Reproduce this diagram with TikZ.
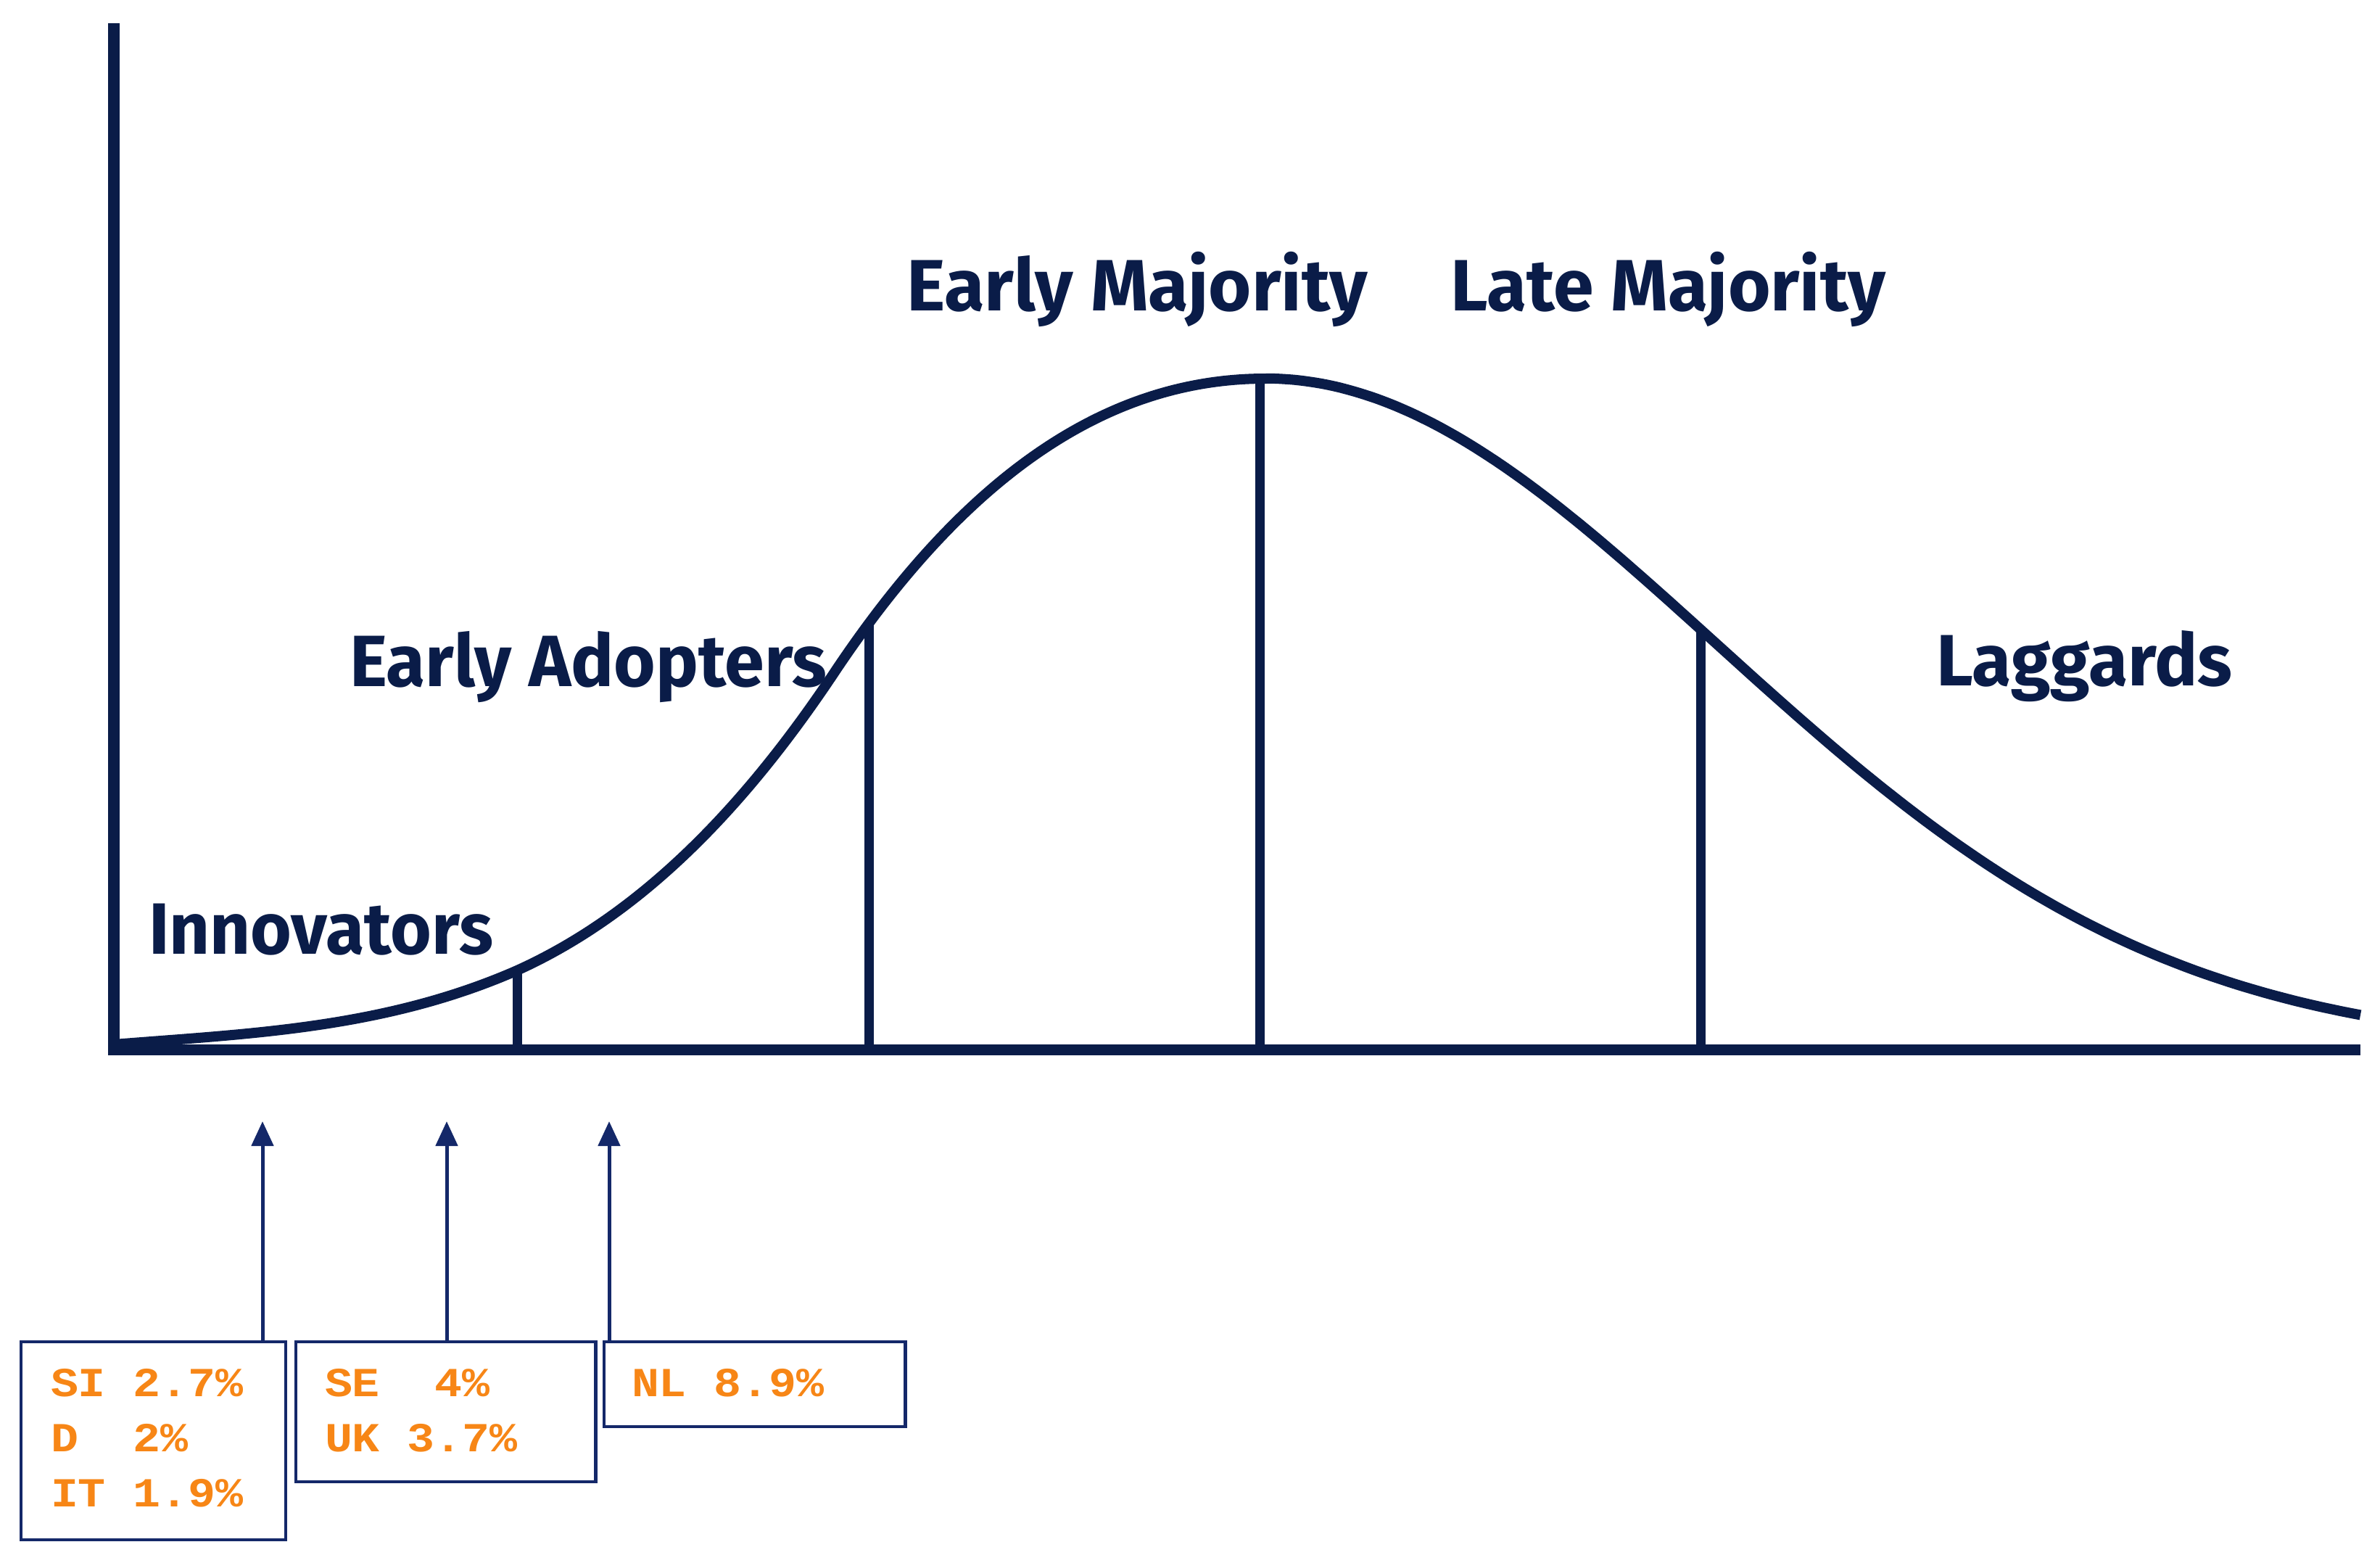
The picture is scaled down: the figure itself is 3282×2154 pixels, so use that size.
\documentclass[tikz,border=0pt]{standalone}
\usepackage{fontspec}
\usepackage{graphicx}
\setmainfont{Fira Sans}
\newfontfamily\valfont{Liberation Mono}
\usetikzlibrary{arrows.meta,intersections}
\definecolor{navy}{RGB}{10,28,72}
\definecolor{boxblue}{RGB}{20,40,105}
\definecolor{valorange}{RGB}{247,134,22}
\begin{document}
\begin{tikzpicture}[x=0.01cm,y=-0.01cm,
  axis/.style={line width=0.15cm, draw=navy, line cap=butt, line join=miter},
  curve/.style={line width=0.14cm, draw=navy},
  divider/.style={line width=0.13cm, draw=navy},
  stage/.style={inner sep=0pt, outer sep=0pt, anchor=base west, text=navy, font=\fontsize{28.5}{30}\selectfont\bfseries},
  valbox/.style={draw=boxblue, line width=0.045cm, inner sep=0pt, outer sep=0pt, anchor=north west},
  val/.style={inner sep=0pt, outer sep=0pt, anchor=base west, text=valorange, font=\valfont\bfseries\fontsize{18}{20}\selectfont},
  pointer/.style={draw=boxblue, line width=0.05cm, -{Triangle[length=0.34cm,width=0.30cm]}}]
\fill[white] (0,0) rectangle (3282,2154);
\useasboundingbox (0,0) rectangle (3282,2154);

% axes
\coordinate (ytop) at (157,32);
\coordinate (origin) at (157,1447);
\coordinate (xend) at (3255,1447);
\draw[axis] (ytop) -- (origin) -- (xend);

% adoption curve
\draw[curve, name path=bell] (157,1440)
  .. controls (342,1425) and (528,1419) .. (713,1338)
  .. controls (859,1272) and (1004,1147) .. (1150,928)
  .. controls (1348,631) and (1547,522) .. (1745,522)
  -- plot[domain=1745:3255, samples=120, smooth] (\x, {1447-925*exp(-((\x-1745)/620)^2/2)});

% dividers
\coordinate (d1) at (713,1447);
\coordinate (d2) at (1198,1447);
\coordinate (d3) at (1737,1447);
\coordinate (d4) at (2345,1447);
\path[name path=v1] (d1) -- ++(0,-1300);
\path[name path=v2] (d2) -- ++(0,-1300);
\path[name path=v3] (d3) -- ++(0,-1300);
\path[name path=v4] (d4) -- ++(0,-1300);
\path[name intersections={of=bell and v1, by=c1}];
\path[name intersections={of=bell and v2, by=c2}];
\path[name intersections={of=bell and v3, by=c3}];
\path[name intersections={of=bell and v4, by=c4}];
\draw[divider] (d1) -- (d1 |- c1);
\draw[divider] (d2) -- (d2 |- c2);
\draw[divider] (d3) -- (d3 |- c3);
\draw[divider] (d4) -- (d4 |- c4);

% stage labels
\node[stage] (em) at (1250,428) {\resizebox{6.36cm}{\height}{Early Majority}};
\node[stage] (lm) at (2000,428) {\resizebox{6.00cm}{\height}{Late Majority}};
\node[stage] (ea) at (482,946) {\resizebox{6.58cm}{\height}{Early Adopters}};
\node[stage] (in) at (205,1315) {\resizebox{4.75cm}{\height}{Innovators}};
\node[stage] (lg) at (2670,945) {\resizebox{4.08cm}{\height}{Laggards}};

% value boxes
\node[valbox, minimum width=3.65cm, minimum height=2.73cm] (b1) at (29,1850) {};
\node[valbox, minimum width=4.13cm, minimum height=1.93cm] (b2) at (408,1850) {};
\node[valbox, minimum width=4.15cm, minimum height=1.17cm] (b3) at (833,1850) {};

\node[val] (t11) at (70,1925) {\scalebox{1}[0.9]{SI 2.7\%}};
\node[val] (t12) at (70,2001) {\scalebox{1}[0.9]{D\ \ 2\%}};
\node[val] (t13) at (70,2077) {\scalebox{1}[0.9]{IT 1.9\%}};
\node[val] (t21) at (448,1925) {\scalebox{1}[0.9]{SE\ \ 4\%}};
\node[val] (t22) at (448,2001) {\scalebox{1}[0.9]{UK 3.7\%}};
\node[val] (t31) at (871,1925) {\scalebox{1}[0.9]{NL 8.9\%}};

% pointers
\coordinate (p1) at (362,1546);
\coordinate (p2) at (616,1546);
\coordinate (p3) at (840,1546);
\draw[pointer] (p1 |- b1.north) -- (p1);
\draw[pointer] (p2 |- b2.north) -- (p2);
\draw[pointer] (p3 |- b3.north) -- (p3);
\end{tikzpicture}
\end{document}
